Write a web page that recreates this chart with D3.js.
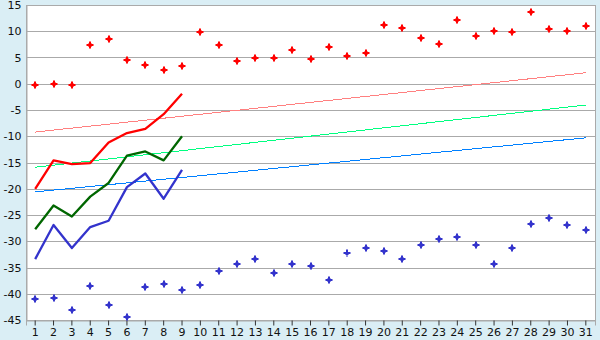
<!DOCTYPE html>
<html><head><meta charset="utf-8">
<script src="https://cdn.jsdelivr.net/npm/d3@7"></script>
<style>
html,body{margin:0;padding:0;background:#daeef5;}
svg{display:block;font-family:"DejaVu Sans",Verdana,sans-serif;}
</style></head>
<body>
<svg id="c" width="600" height="340"></svg>
<script>
const categories = d3.range(1, 32);
const yTicks = [15, 10, 5, 0, -5, -10, -15, -20, -25, -30, -35, -40, -45];

const redPoints = [-0.3, -0.1, -0.3, 7.4, 8.5, 4.5, 3.6, 2.6, 3.4, 9.9, 7.4, 4.3, 4.9, 4.9, 6.4, 4.7, 7.0, 5.3, 5.9, 11.2, 10.6, 8.7, 7.6, 12.1, 9.1, 10.0, 9.9, 13.7, 10.4, 10.0, 11.0];
const bluePoints = [-41.0, -40.8, -43.1, -38.5, -42.1, -44.4, -38.7, -38.1, -39.3, -38.3, -35.7, -34.3, -33.4, -36.0, -34.3, -34.7, -37.4, -32.2, -31.3, -31.9, -33.4, -30.7, -29.6, -29.2, -30.7, -34.3, -31.3, -26.7, -25.6, -26.9, -27.9];

const redLine = [-20.0, -14.6, -15.3, -15.1, -11.2, -9.4, -8.6, -5.8, -1.9];
const greenLine = [-27.7, -23.2, -25.3, -21.5, -18.9, -13.7, -12.9, -14.6, -10.0];
const blueLine = [-33.4, -26.9, -31.3, -27.3, -26.1, -19.7, -17.1, -21.9, -16.4];

// trend lines: [value at day 1, value at day 31]
const redTrend = [-9.2, 2.1];
const greenTrend = [-15.9, -4.05];
const blueTrend = [-20.6, -10.3];

const svg = d3.select("#c");
const L = 26, R = 595, T = 5, B = 320;

const x = d3.scaleBand().domain(categories).range([L, R]).padding(0);
const y = d3.scaleLinear().domain([-45, 15]).range([B, T]);
const cx = d => x(d) + x.bandwidth() / 2;

svg.append("rect").attr("x", L + 0.5).attr("y", T + 0.5).attr("width", R - L).attr("height", B - T)
  .attr("fill", "#ffffff").attr("stroke", "#aaaaaa");

// grid
svg.append("g").selectAll("line").data(yTicks).join("line")
  .attr("x1", L).attr("x2", R)
  .attr("y1", d => Math.round(y(d)) + 0.5).attr("y2", d => Math.round(y(d)) + 0.5)
  .attr("stroke", "#aaaaaa").attr("stroke-width", 1);

// y axis
const yAxis = svg.append("g").attr("transform", `translate(${L + 0.5},0)`)
  .call(d3.axisLeft(y).tickValues(yTicks).tickSize(0).tickPadding(5).tickFormat(d3.format("d")));
yAxis.select(".domain").attr("stroke", "#aaaaaa");
yAxis.selectAll("text").attr("font-size", 11).attr("fill", "#111")
  .attr("font-family", "DejaVu Sans, Verdana, sans-serif")
  .text(d => d < 0 ? "-" + Math.abs(d) : d);

// x axis
const xAxis = svg.append("g").attr("transform", `translate(0,${B + 0.5})`)
  .call(d3.axisBottom(x).tickSize(5).tickPadding(3));
xAxis.select(".domain").attr("stroke", "#aaaaaa");
xAxis.selectAll(".tick line").attr("stroke", "#333");
xAxis.selectAll("text").attr("font-size", 11).attr("fill", "#111")
  .attr("font-family", "DejaVu Sans, Verdana, sans-serif");

// trend lines
const trends = [[redTrend, "#ff8080"], [greenTrend, "#00ff80"], [blueTrend, "#0080ff"]];
trends.forEach(([t, c]) => {
  svg.append("line")
    .attr("x1", cx(categories[0])).attr("y1", y(t[0]))
    .attr("x2", cx(categories[categories.length - 1])).attr("y2", y(t[1]))
    .attr("stroke", c).attr("stroke-width", 1).attr("shape-rendering", "crispEdges");
});

// thick lines
const line = d3.line().x((d, i) => cx(categories[i])).y(d => y(d));
[[redLine, "#ff0000"], [greenLine, "#006600"], [blueLine, "#3333cc"]].forEach(([s, c]) => {
  svg.append("path").datum(s).attr("d", line).attr("fill", "none")
    .attr("stroke", c).attr("stroke-width", 2.3).attr("stroke-linejoin", "round");
});

// markers
const markerPath = "M-1,-3.5 H1 V-1 H3.5 V1 H1 V3.5 H-1 V1 H-3.5 V-1 H-1 Z M0,-3 L3,0 L0,3 L-3,0 Z";
[[redPoints, "#ff0000"], [bluePoints, "#3333cc"]].forEach(([s, c]) => {
  svg.append("g").selectAll("path").data(s).join("path")
    .attr("transform", (d, i) => `translate(${Math.round(cx(categories[i]))},${Math.round(y(d))})`)
    .attr("d", markerPath).attr("fill", c);
});
</script>
</body></html>
